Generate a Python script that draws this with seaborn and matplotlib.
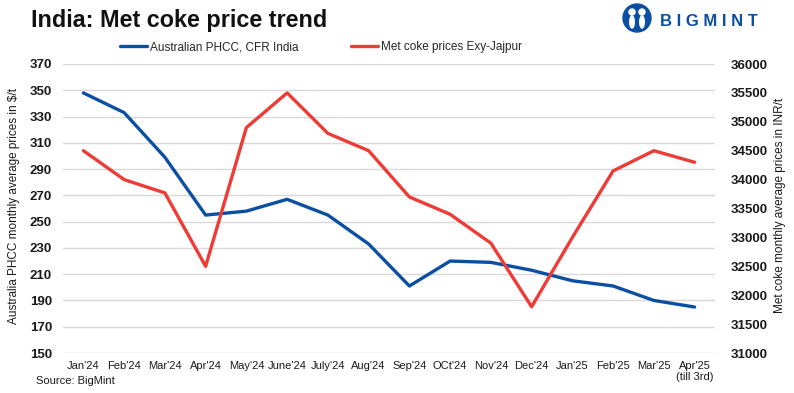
import pandas as pd
import matplotlib.pyplot as plt
import seaborn as sns
from matplotlib.patches import Ellipse

# data
months = ["Jan'24", "Feb'24", "Mar'24", "Apr'24", "May'24", "June'24", "July'24", "Aug'24",
          "Sep'24", "OCt'24", "Nov'24", "Dec'24", "Jan'25", "Feb'25", "Mar'25", "Apr'25\n(till 3rd)"]
phcc_usd = [348, 333, 299, 255, 258, 267, 255, 233, 201, 220, 219, 213, 205, 201, 190, 185]
metcoke_inr = [34500, 34000, 33770, 32500, 34900, 35500, 34800, 34500,
               33700, 33400, 32900, 31800, 33000, 34150, 34500, 34300]

df = pd.DataFrame({"x": range(len(months)), "month": months,
                   "phcc": phcc_usd, "metcoke": metcoke_inr})

blue = "#0b4fa2"
red = "#ee3b36"
txt = "#1a1a1a"

sns.set_theme(style="white")
plt.rcParams["font.family"] = ["Liberation Sans", "DejaVu Sans"]

fig = plt.figure(figsize=(7.94, 3.93), dpi=100)
ax = fig.add_axes([63 / 794, 1 - 353 / 393, 652 / 794, 289 / 393])
ax2 = ax.twinx()

sns.lineplot(data=df, x="x", y="phcc", ax=ax, color=blue, linewidth=2.4,
             label="Australian PHCC, CFR India", legend=False)
sns.lineplot(data=df, x="x", y="metcoke", ax=ax2, color=red, linewidth=2.4,
             label="Met coke prices Exy-Jajpur", legend=False)

ax.set_xlim(-0.5, len(months) - 0.5)
ax.set_ylim(150, 370)
ax.set_yticks(range(150, 371, 20))
ax2.set_ylim(31000, 36000)
ax2.set_yticks(range(31000, 36001, 500))

ax.set_xticks(df["x"])
ax.set_xticklabels(months, fontsize=8, color=txt, linespacing=1.1)
for lab in ax.get_yticklabels() + ax2.get_yticklabels():
    lab.set_fontweight("bold")
ax.tick_params(axis="y", labelsize=9.5, colors=txt, length=0, pad=8)
ax2.tick_params(axis="y", labelsize=9.5, colors=txt, length=0, pad=11)
ax.tick_params(axis="x", length=0, pad=6)

ax.grid(axis="y", color="#d9d9d9", linewidth=1)
ax.set_axisbelow(True)
for a in (ax, ax2):
    for s in a.spines.values():
        s.set_visible(False)

ax.set_xlabel("")
ax.set_ylabel("Australia PHCC monthly average prices in $/t", fontsize=8.5, color=txt)
ax.yaxis.set_label_coords(-0.066, 0.51)
ax2.set_ylabel("Met coke monthly average prices in INR/t", fontsize=8.5, color=txt)
ax2.yaxis.set_label_coords(1.091, 0.51)

fig.text(31 / 794, 1 - 20 / 393, "India: Met coke price trend", fontsize=16.8,
         fontweight="bold", color="#111111", va="center", ha="left")
fig.text(36 / 794, 1 - 381 / 393, "Source: BigMint", fontsize=8, color=txt, va="center")

h1, l1 = ax.get_legend_handles_labels()
h2, l2 = ax2.get_legend_handles_labels()
fig.legend(h1 + h2, l1 + l2, loc="center", bbox_to_anchor=(321 / 794, 1 - 47 / 393),
           ncol=2, frameon=False, fontsize=8.5, handlelength=2.3, columnspacing=4.4,
           handletextpad=0.3)

# logo
cx, cy, r = 637 / 794, 1 - 18 / 393, 14
fig.patches.append(Ellipse((cx, cy), 2 * r / 794, 2 * r / 393, transform=fig.transFigure,
                           color=blue, zorder=5))
for dx in (-5, 5):
    fig.patches.append(Ellipse((cx + dx / 794, cy + 6 / 393), 6 / 794, 6 / 393,
                               transform=fig.transFigure, color="white", zorder=6))
    fig.patches.append(Ellipse((cx + dx / 794, cy - 4 / 393), 4.5 / 794, 12 / 393,
                               transform=fig.transFigure, color="white", zorder=6))
fig.text(660 / 794, 1 - 22 / 393, "B I G M I N T", fontsize=12, fontweight="bold", color=blue,
         va="center", ha="left")

fig.savefig("out.png", dpi=100)
